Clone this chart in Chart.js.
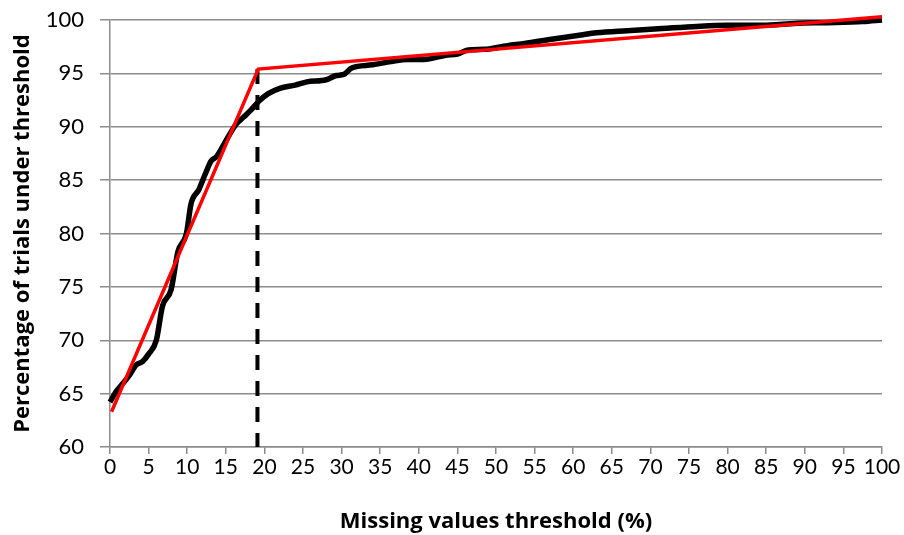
<!DOCTYPE html>
<html>
<head>
<meta charset="utf-8">
<script src="https://cdn.jsdelivr.net/npm/chart.js@4"></script>
<style>
  html, body { margin: 0; padding: 0; background: #fff; }
  #wrap { width: 904px; height: 535px; }
</style>
</head>
<body>
<div id="wrap"><canvas id="chart"></canvas></div>
<script>
// black curve: share of trials under each missing-value threshold
var thresholdX = [0, 0.8, 1.6, 2.5, 3.4, 4.2, 5.0, 6.0, 6.8, 7.9, 8.8, 9.9, 10.5, 11.5, 12.3, 13.1, 13.8, 15.1, 16.3, 17.3, 18.3, 19.3, 20.5, 22.0, 24.0, 25.5, 28.0, 29.3, 30.3, 31.3, 34.0, 36.4, 38.5, 40.7, 43.5, 45.0, 46.4, 48.5, 51.5, 53.7, 57.2, 61.0, 63.0, 67.0, 71.5, 76.0, 80.0, 84.5, 89.0, 93.0, 97.5, 100];
var trialsPct = [64.2, 65.2, 65.9, 66.7, 67.7, 68.0, 68.7, 70.0, 73.2, 74.7, 78.3, 80.0, 82.8, 84.1, 85.5, 86.8, 87.2, 88.8, 90.2, 90.9, 91.6, 92.4, 93.1, 93.6, 93.9, 94.2, 94.4, 94.8, 94.9, 95.5, 95.8, 96.1, 96.3, 96.3, 96.7, 96.8, 97.2, 97.25, 97.6, 97.8, 98.2, 98.6, 98.8, 99.0, 99.2, 99.4, 99.5, 99.5, 99.7, 99.75, 99.85, 100];

// red two-segment fit
var fitX = [0.2, 19.2, 100];
var fitY = [63.3, 95.4, 100.3];

// dashed marker at the break point (drawn top-down)
var breakX = [19.1, 19.1];
var breakY = [95.4, 60];

var xTicks = [0, 100, 5];
var yTicks = [60, 100, 5];

function pts(xs, ys) {
  return xs.map((x, i) => ({ x: x, y: ys[i] }));
}

var font = "Lato, 'Open Sans', sans-serif";
var titleFont = "'Open Sans', Lato, sans-serif";
var gridColor = "#8c8c8c";

new Chart(document.getElementById("chart"), {
  type: "line",
  data: {
    datasets: [
      {
        label: "fit",
        data: pts(fitX, fitY),
        borderColor: "#ff0000",
        borderWidth: 3.5,
        pointRadius: 0,
        tension: 0,
        clip: false,
      },
      {
        label: "break",
        data: pts(breakX, breakY),
        borderColor: "#000",
        borderWidth: 4,
        borderDash: [15, 11],
        pointRadius: 0,
        clip: false,
      },
      {
        label: "trials",
        data: pts(thresholdX, trialsPct),
        borderColor: "#000",
        borderWidth: 5.5,
        pointRadius: 0,
        cubicInterpolationMode: "monotone",
        clip: false,
      },
    ],
  },
  options: {
    responsive: true,
    maintainAspectRatio: false,
    animation: false,
    layout: { padding: { top: 20, right: 22, left: 0, bottom: 0 } },
    plugins: { legend: { display: false }, tooltip: { enabled: false } },
    scales: {
      x: {
        type: "linear",
        min: xTicks[0],
        max: xTicks[1],
        afterFit: (s) => { s.height = 88; s.paddingLeft = 0; s.paddingRight = 0; },
        ticks: { stepSize: xTicks[2], autoSkip: false, color: "#000", font: { family: font, size: 21 }, padding: 1, maxRotation: 0 },
        grid: { drawOnChartArea: false, color: gridColor, tickLength: 7, lineWidth: 1.5 },
        border: { color: gridColor, width: 1.5 },
        title: { display: true, text: "Missing values threshold (%)", color: "#000", font: { family: titleFont, size: 22, weight: "bold" }, padding: { top: 6, bottom: 0 } },
      },
      y: {
        min: yTicks[0],
        max: yTicks[1],
        afterFit: (s) => { s.width = 110; s.paddingTop = 0; s.paddingBottom = 0; },
        ticks: { stepSize: yTicks[2], color: "#000", font: { family: font, size: 22 }, padding: 16 },
        grid: { color: gridColor, tickLength: 10, lineWidth: 1.5 },
        border: { color: gridColor, width: 1.5 },
        title: { display: true, text: "Percentage of trials under threshold", color: "#000", font: { family: titleFont, size: 22, weight: "bold" }, padding: { top: 10, bottom: 4 } },
      },
    },
  },
});
</script>
</body>
</html>
